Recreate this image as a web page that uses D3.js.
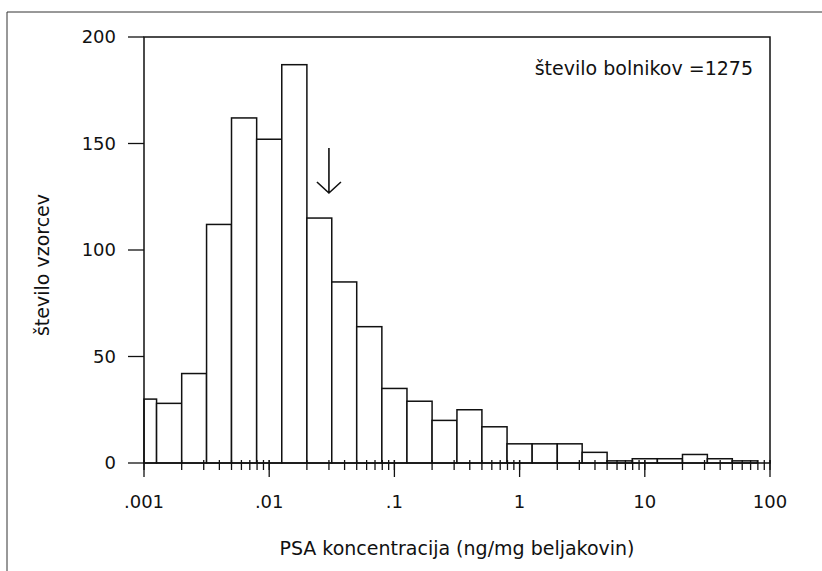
<!DOCTYPE html>
<html>
<head>
<meta charset="utf-8">
<script src="https://cdn.jsdelivr.net/npm/d3@7"></script>
<style>
  body { margin: 0; background: #fff; }
  text { font-family: "DejaVu Sans", sans-serif; fill: #111; }
</style>
</head>
<body>
<div id="chart"></div>
<script>
// PSA histogram on a log axis

// bin edges (ng/mg), 0.2 decade wide
const binEdges = [0.001, 0.00126, 0.002, 0.00316, 0.005, 0.00794, 0.0126, 0.02, 0.0316,
    0.05, 0.0794, 0.126, 0.2, 0.316, 0.5, 0.794, 1.26, 2, 3.16, 5, 7.94, 12.6, 20, 31.6,
    50, 79.4, 100];
// number of samples per bin
const counts = [30, 28, 42, 112, 162, 152, 187, 115, 85, 64, 35, 29, 20, 25, 17, 9, 9, 9,
    5, 1, 2, 2, 4, 2, 1, 0];

const majorTicks = [0.001, 0.01, 0.1, 1, 10, 100];
const majorLabels = ['.001', '.01', '.1', '1', '10', '100'];
const yTicks = [0, 50, 100, 150, 200];
const cutoff = 0.03;   // arrow position
const noteText = 'število bolnikov =1275';

const W = 822, H = 571;
const margin = { top: 37, right: 52, bottom: 108, left: 144 };
const plotW = W - margin.left - margin.right;
const plotH = H - margin.top - margin.bottom;

const svg = d3.select('#chart')
    .append('svg')
    .attr('width', W)
    .attr('height', H);

// outer frame (top and left edge visible)
svg.append('path')
    .attr('d', `M7,${H} V12 H${W}`)
    .attr('fill', 'none')
    .attr('stroke', '#333')
    .attr('stroke-width', 1);

const g = svg.append('g')
    .attr('transform', `translate(${margin.left},${margin.top})`);

const x = d3.scaleLog().domain([0.001, 100]).range([0, plotW]);
const y = d3.scaleLinear().domain([0, 200]).range([plotH, 0]);

// bars
const bins = counts.map((c, i) => ({ x0: binEdges[i], x1: binEdges[i + 1], n: c }));
g.selectAll('.bar')
    .data(bins.filter(d => d.n > 0))
    .enter()
    .append('rect')
    .attr('class', 'bar')
    .attr('x', d => x(d.x0))
    .attr('y', d => y(d.n))
    .attr('width', d => x(d.x1) - x(d.x0))
    .attr('height', d => y(0) - y(d.n))
    .attr('fill', '#fff')
    .attr('stroke', '#111')
    .attr('stroke-width', 1.5);

// plot box
g.append('rect')
    .attr('width', plotW)
    .attr('height', plotH)
    .attr('fill', 'none')
    .attr('stroke', '#111')
    .attr('stroke-width', 1.5);

// x ticks: minor 2..9, major on decades
g.selectAll('.xminor')
    .data(x.ticks())
    .enter()
    .append('line')
    .attr('x1', d => x(d)).attr('x2', d => x(d))
    .attr('y1', plotH - 3).attr('y2', plotH + 7)
    .attr('stroke', '#111').attr('stroke-width', 1.3);

g.selectAll('.xmajor')
    .data(majorTicks)
    .enter()
    .append('line')
    .attr('x1', d => x(d)).attr('x2', d => x(d))
    .attr('y1', plotH - 3).attr('y2', plotH + 14)
    .attr('stroke', '#111').attr('stroke-width', 1.3);

g.selectAll('.xlabel')
    .data(majorTicks)
    .enter()
    .append('text')
    .attr('x', d => x(d))
    .attr('y', plotH + 45)
    .attr('text-anchor', 'middle')
    .style('font-size', '18px')
    .text((d, i) => majorLabels[i]);

// y ticks
g.selectAll('.ytick')
    .data(yTicks)
    .enter()
    .append('line')
    .attr('x1', -16).attr('x2', 0)
    .attr('y1', d => y(d)).attr('y2', d => y(d))
    .attr('stroke', '#111').attr('stroke-width', 1.3);

g.selectAll('.ylabel')
    .data(yTicks)
    .enter()
    .append('text')
    .attr('x', -28)
    .attr('y', d => y(d))
    .attr('dy', '0.36em')
    .attr('text-anchor', 'end')
    .style('font-size', '18px')
    .text(d => d);

// axis titles
g.append('text')
    .attr('x', plotW / 2)
    .attr('y', plotH + 92)
    .attr('text-anchor', 'middle')
    .style('font-size', '19px')
    .text('PSA koncentracija (ng/mg beljakovin)');

g.append('text')
    .attr('transform', 'rotate(-90)')
    .attr('x', -(plotH / 2 + 15))
    .attr('y', -95)
    .attr('text-anchor', 'middle')
    .style('font-size', '19px')
    .text('število vzorcev');

// note
g.append('text')
    .attr('x', plotW - 17)
    .attr('y', 38)
    .attr('text-anchor', 'end')
    .style('font-size', '19px')
    .text(noteText);

// arrow at cut-off
const ax = x(cutoff);
g.append('path')
    .attr('d', `M${ax},${111} V${156} M${ax - 12},${145} L${ax},${156} L${ax + 12},${145}`)
    .attr('fill', 'none')
    .attr('stroke', '#111')
    .attr('stroke-width', 1.6);
</script>
</body>
</html>
